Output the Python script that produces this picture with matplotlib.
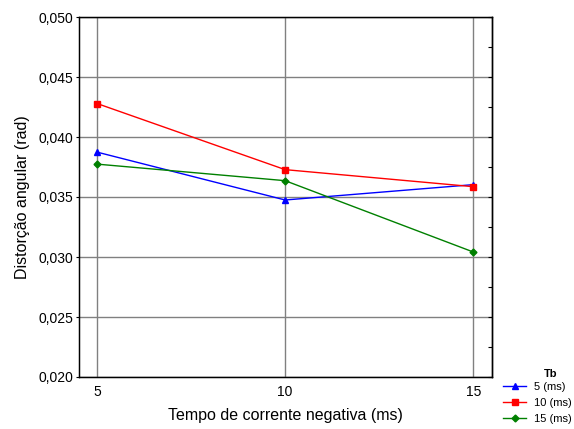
import matplotlib
matplotlib.use("Agg")
import matplotlib.pyplot as plt
from matplotlib.ticker import FixedLocator, MultipleLocator, FuncFormatter

plt.rcParams['font.family'] = ['Liberation Sans', 'DejaVu Sans']

x_vals = [5, 10, 15]
series_names = ["5 (ms)", "10 (ms)", "15 (ms)"]
legend_title = "Tb"
tb5 = [0.03874, 0.03475, 0.03603]
tb10 = [0.04279, 0.03728, 0.03586]
tb15 = [0.03774, 0.03636, 0.03042]
y_ticks = [0.020, 0.025, 0.030, 0.035, 0.040, 0.045, 0.050]
x_ticks = [5, 10, 15]

fig = plt.figure(figsize=(5.74, 4.29), dpi=100)
ax = fig.add_axes([79/574, 1-377/429, (492-79)/574, (377-17)/429])

ax.plot(x_vals, tb5, color='blue', marker='^', markersize=5, lw=1, label=series_names[0], zorder=3)
ax.plot(x_vals, tb10, color='red', marker='s', markersize=5, lw=1, label=series_names[1], zorder=3)
ax.plot(x_vals, tb15, color='green', marker='D', markersize=3.5, lw=1, label=series_names[2], zorder=3)

ax.set_xlim(4.52, 15.5)
ax.set_ylim(0.020, 0.050)
ax.yaxis.set_major_locator(FixedLocator(y_ticks))
ax.xaxis.set_major_locator(FixedLocator(x_ticks))
ax.yaxis.set_major_formatter(FuncFormatter(lambda v, p: f"{v:.3f}".replace('.', ',')))
ax.grid(True, color='#808080', lw=1)
ax.set_axisbelow(True)

ax.tick_params(axis='y', direction='out', length=2, labelsize=10, pad=2)
ax.tick_params(axis='x', length=0, labelsize=10, pad=6)
for s in ax.spines.values():
    s.set_color('black')
    s.set_linewidth(1)

# right side inward ticks
ax2 = ax.twinx()
ax2.set_ylim(ax.get_ylim())
ax2.yaxis.set_major_locator(MultipleLocator(0.0025))
ax2.tick_params(axis='y', direction='in', length=3, labelright=False)
ax2.spines['right'].set_linewidth(1)

ax.set_xlabel("Tempo de corrente negativa (ms)", fontsize=11.5, labelpad=6)
ax.set_ylabel("Distorção angular (rad)", fontsize=11.5, labelpad=6)

leg = ax.legend(loc='upper left', bbox_to_anchor=(503/574, 1-382/429),
                bbox_transform=fig.transFigure, frameon=False, fontsize=8,
                handlelength=2.1, labelspacing=0.55, borderaxespad=0, handletextpad=0.7,
                borderpad=0)
fig.text(551/574, 1-374/429, legend_title, fontsize=8, fontweight='bold',
         ha='center', va='center')

fig.savefig("out.png", dpi=100)
